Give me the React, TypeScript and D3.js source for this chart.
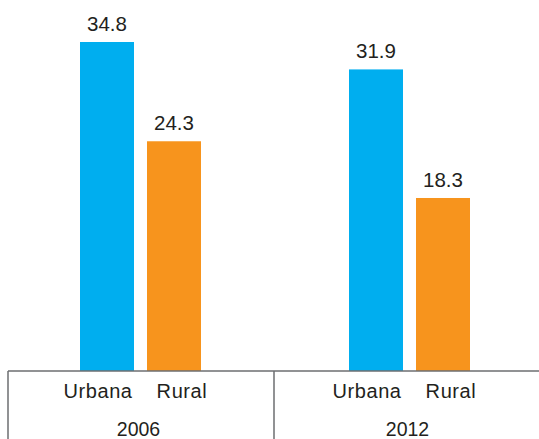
import React from "react";
import * as d3 from "d3";

const years = ["2006", "2012"];
const series = ["Urbana", "Rural"];
const urbana = [34.8, 31.9];
const rural = [24.3, 18.3];
const colors = ["#00AEEF", "#F7941D"];

const W = 539;
const H = 439;

export default function App() {
  const baseY = 371;
  const x = d3.scaleBand<string>().domain(years).range([7, 545]);
  const inner = d3
    .scaleBand<string>()
    .domain(series)
    .range([73, 194])
    .paddingInner(13 / 67)
    .paddingOuter(0);
  const y = d3.scaleLinear().domain([0, 34.8]).range([baseY, 42]);
  const values = [urbana, rural];
  const labelShift = [-9, 8];
  const font = "'Liberation Sans', Arial, Helvetica, sans-serif";

  return (
    <svg
      width={W}
      height={H}
      style={{ position: "absolute", left: 0, top: 0, display: "block" }}
      fontFamily={font}
    >
      <rect x={0} y={0} width={W} height={H} fill="#fff" />
      {years.map((yr, gi) => {
        const gx = x(yr)!;
        return (
          <g key={yr}>
            {series.map((s, si) => {
              const v = values[si][gi];
              const bx = gx + inner(s)!;
              const bw = inner.bandwidth();
              return (
                <g key={s}>
                  <rect
                    x={bx}
                    y={y(v)}
                    width={bw}
                    height={baseY - y(v)}
                    fill={colors[si]}
                  />
                  <text
                    x={bx + bw / 2}
                    y={y(v) - 11}
                    textAnchor="middle"
                    fontSize={20.5}
                    fill="#231f20"
                  >
                    {v.toFixed(1)}
                  </text>
                  <text
                    x={bx + bw / 2 + labelShift[si]}
                    y={398}
                    textAnchor="middle"
                    fontSize={20}
                    letterSpacing={0.6}
                    fill="#231f20"
                  >
                    {s}
                  </text>
                </g>
              );
            })}
            <text
              x={gx + x.bandwidth() / 2 - 3}
              y={435.5}
              textAnchor="middle"
              fontSize={19.5}
              fill="#231f20"
            >
              {yr}
            </text>
          </g>
        );
      })}
      <line x1={8} x2={W} y1={baseY} y2={baseY} stroke="#6d6e71" strokeWidth={1.5} />
      <line x1={8} x2={8} y1={baseY} y2={H} stroke="#6d6e71" strokeWidth={1.5} />
      <line
        x1={x("2012")! - 2}
        x2={x("2012")! - 2}
        y1={baseY}
        y2={H}
        stroke="#6d6e71"
        strokeWidth={1.5}
      />
    </svg>
  );
}
